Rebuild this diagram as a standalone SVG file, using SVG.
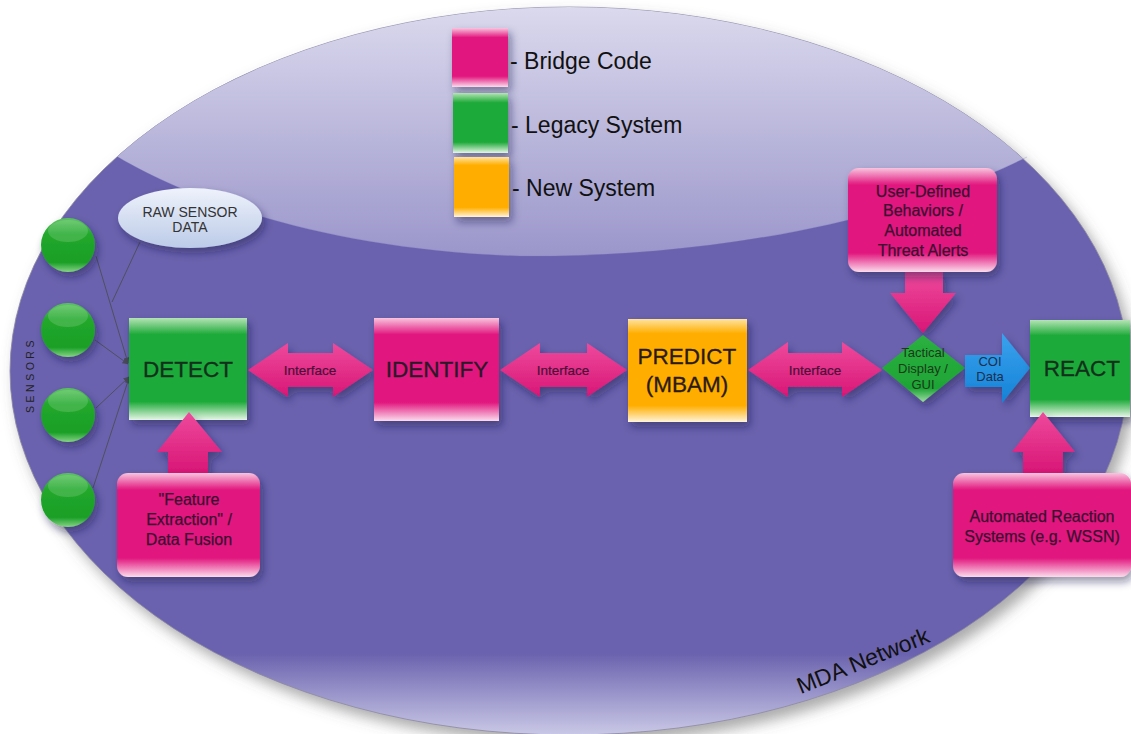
<svg xmlns="http://www.w3.org/2000/svg" width="1131" height="734" viewBox="0 0 1131 734">
<defs>
  <linearGradient id="bgMain" x1="0" y1="0" x2="0" y2="734" gradientUnits="userSpaceOnUse">
    <stop offset="0" stop-color="#6a62ae"/>
    <stop offset="0.89" stop-color="#6a62ae"/>
    <stop offset="1" stop-color="#c9c7e6"/>
  </linearGradient>
  <linearGradient id="bgTop" x1="0" y1="0" x2="0" y2="260" gradientUnits="userSpaceOnUse">
    <stop offset="0" stop-color="#dcdbee"/>
    <stop offset="1" stop-color="#9a95ca"/>
  </linearGradient>
  <linearGradient id="pinkG" x1="0" y1="0" x2="0" y2="1">
    <stop offset="0" stop-color="#f9c4de"/>
    <stop offset="0.16" stop-color="#e2197f"/>
    <stop offset="0.82" stop-color="#e2197f"/>
    <stop offset="1" stop-color="#fcdcec"/>
  </linearGradient>
  <linearGradient id="greenG" x1="0" y1="0" x2="0" y2="1">
    <stop offset="0" stop-color="#b4e4b4"/>
    <stop offset="0.16" stop-color="#1faa3a"/>
    <stop offset="0.82" stop-color="#1faa3a"/>
    <stop offset="1" stop-color="#e6f6e6"/>
  </linearGradient>
  <linearGradient id="orangeG" x1="0" y1="0" x2="0" y2="1">
    <stop offset="0" stop-color="#ffe3a0"/>
    <stop offset="0.14" stop-color="#ffae00"/>
    <stop offset="0.84" stop-color="#ffae00"/>
    <stop offset="1" stop-color="#fff4da"/>
  </linearGradient>
  <linearGradient id="arrowPink" x1="0" y1="0" x2="0" y2="1">
    <stop offset="0" stop-color="#ee4a9c"/>
    <stop offset="1" stop-color="#d81676"/>
  </linearGradient>
  <linearGradient id="blueG" x1="0" y1="0" x2="0" y2="1">
    <stop offset="0" stop-color="#3aa2ee"/>
    <stop offset="1" stop-color="#1582d6"/>
  </linearGradient>
  <linearGradient id="diamondG" x1="0" y1="0" x2="0" y2="1">
    <stop offset="0" stop-color="#2bb040"/>
    <stop offset="0.8" stop-color="#1ea535"/>
    <stop offset="1" stop-color="#9fdca5"/>
  </linearGradient>
  <linearGradient id="sensorG" x1="0" y1="0" x2="0" y2="1">
    <stop offset="0" stop-color="#5cc460"/>
    <stop offset="0.3" stop-color="#22a82c"/>
    <stop offset="0.82" stop-color="#1a9f26"/>
    <stop offset="1" stop-color="#86d486"/>
  </linearGradient>
  <linearGradient id="rawG" x1="0" y1="0" x2="0" y2="1">
    <stop offset="0" stop-color="#eef2fb"/>
    <stop offset="1" stop-color="#bccbe8"/>
  </linearGradient>
  <filter id="shadow" x="-20%" y="-20%" width="150%" height="160%">
    <feDropShadow dx="3" dy="5" stdDeviation="4" flood-color="#1c1444" flood-opacity="0.45"/>
  </filter>
  <filter id="bigShadow" x="-5%" y="-5%" width="110%" height="112%">
    <feDropShadow dx="6" dy="8" stdDeviation="7" flood-color="#555" flood-opacity="0.5"/>
  </filter>
  <marker id="arr" viewBox="0 0 10 10" refX="9" refY="5" markerWidth="6" markerHeight="6" orient="auto">
    <path d="M0,0 L10,5 L0,10 z" fill="#4a4a5a"/>
  </marker>
  <clipPath id="ellClip">
    <ellipse cx="569" cy="371" rx="559" ry="364"/>
  </clipPath>
</defs>
<style>
  text { font-family: "Liberation Sans", Arial, sans-serif; text-anchor: middle; }
  .tbig { font-size: 22.5px; }
  .tmid { font-size: 16px; }
  .tsmall { font-size: 13.5px; }
  .ttiny { font-size: 13px; }
  .tleg { font-size: 23px; text-anchor: start; }
  .conn { stroke: #50505e; stroke-width: 1; fill: none; }
</style>
<rect width="1131" height="734" fill="#ffffff"/>

<g id="network">
  <ellipse cx="569" cy="371" rx="559" ry="364" fill="url(#bgMain)" stroke="#8a88a0" stroke-width="0.8" filter="url(#bigShadow)"/>
  <path clip-path="url(#ellClip)" d="M0,0 L1131,0 L1131,100 L1027,157 C880,230 680,258 520,256 C330,250 190,200 118,157 L0,100 Z" fill="url(#bgTop)"/>
  <path d="M118,157 C190,200 330,250 520,256 C680,258 880,230 1027,157" fill="none" stroke="#7c76b8" stroke-width="0.6" opacity="0.5"/>
  <text x="0" y="0" transform="translate(866,668) rotate(-22)" font-size="23" fill="#111111">MDA Network</text>
</g>

<g id="legend" fill="#111111">
  <rect x="452" y="28" width="56" height="59" fill="url(#pinkG)" filter="url(#shadow)"/>
  <text class="tleg" x="510" y="69">- Bridge Code</text>
  <rect x="453" y="93" width="55" height="60" fill="url(#greenG)" filter="url(#shadow)"/>
  <text class="tleg" x="511" y="133">- Legacy System</text>
  <rect x="454" y="157" width="55" height="60" fill="url(#orangeG)" filter="url(#shadow)"/>
  <text class="tleg" x="512" y="196">- New System</text>
</g>

<g id="connectors">
  <line class="conn" x1="96" y1="256" x2="128" y2="363" marker-end="url(#arr)"/>
  <line class="conn" x1="95" y1="340" x2="128" y2="364" marker-end="url(#arr)"/>
  <line class="conn" x1="96" y1="408" x2="129" y2="377" marker-end="url(#arr)"/>
  <line class="conn" x1="93" y1="488" x2="129" y2="378" marker-end="url(#arr)"/>
  <line class="conn" x1="140" y1="242" x2="112" y2="302"/>
</g>

<g id="sensors">
  <text x="0" y="0" transform="translate(34,375) rotate(-90)" font-size="10.5" fill="#222222" letter-spacing="3.5">SENSORS</text>
  <g id="sensor1"><circle cx="68" cy="245" r="27" fill="url(#sensorG)" filter="url(#shadow)"/><ellipse cx="68" cy="231" rx="20" ry="11" fill="#ffffff" opacity="0.15"/></g>
  <g id="sensor2"><circle cx="68" cy="330" r="27" fill="url(#sensorG)" filter="url(#shadow)"/><ellipse cx="68" cy="316" rx="20" ry="11" fill="#ffffff" opacity="0.15"/></g>
  <g id="sensor3"><circle cx="68" cy="415" r="27" fill="url(#sensorG)" filter="url(#shadow)"/><ellipse cx="68" cy="401" rx="20" ry="11" fill="#ffffff" opacity="0.15"/></g>
  <g id="sensor4"><circle cx="68" cy="500" r="27" fill="url(#sensorG)" filter="url(#shadow)"/><ellipse cx="68" cy="486" rx="20" ry="11" fill="#ffffff" opacity="0.15"/></g>
</g>

<g id="raw-sensor-data">
  <ellipse cx="190" cy="218" rx="72" ry="30" fill="url(#rawG)" filter="url(#shadow)"/>
  <text x="190" y="217" font-size="14" fill="#333333">RAW SENSOR</text>
  <text x="190" y="232" font-size="14" fill="#333333">DATA</text>
</g>

<g id="detect">
  <rect x="129" y="318" width="118" height="102" fill="url(#greenG)" filter="url(#shadow)"/>
  <text class="tbig" x="188" y="377" fill="#12301a" stroke="#12301a" stroke-width="0.3">DETECT</text>
</g>

<g id="feature-extraction">
  <path d="M168,473 L168,452 L157,452 L189,412 L222,452 L208,452 L208,473 Z" fill="url(#arrowPink)" filter="url(#shadow)"/>
  <rect x="117" y="473" width="143" height="104" rx="11" fill="url(#pinkG)" filter="url(#shadow)"/>
  <g fill="#3a1030" stroke="#3a1030" stroke-width="0.25">
    <text class="tmid" x="189" y="505">"Feature</text>
    <text class="tmid" x="189" y="525">Extraction" /</text>
    <text class="tmid" x="189" y="545">Data Fusion</text>
  </g>
</g>

<g id="interface1">
  <path d="M248,370 L288,343 L288,353 L333,353 L333,343 L373,370 L333,397 L333,387 L288,387 L288,397 Z" fill="url(#arrowPink)" filter="url(#shadow)"/>
  <text class="tsmall" x="310" y="375" fill="#4a1038" stroke="#4a1038" stroke-width="0.2">Interface</text>
</g>

<g id="identify">
  <rect x="374" y="318" width="125" height="103" fill="url(#pinkG)" filter="url(#shadow)"/>
  <text class="tbig" x="437" y="377" fill="#2a1a28" stroke="#2a1a28" stroke-width="0.3">IDENTIFY</text>
</g>

<g id="interface2">
  <path d="M500,370 L540,343 L540,353 L587,353 L587,343 L627,370 L587,397 L587,387 L540,387 L540,397 Z" fill="url(#arrowPink)" filter="url(#shadow)"/>
  <text class="tsmall" x="563" y="375" fill="#4a1038" stroke="#4a1038" stroke-width="0.2">Interface</text>
</g>

<g id="predict">
  <rect x="628" y="319" width="119" height="103" fill="url(#orangeG)" filter="url(#shadow)"/>
  <g fill="#2a1a10" stroke="#2a1a10" stroke-width="0.3">
    <text class="tbig" x="687" y="364">PREDICT</text>
    <text class="tbig" x="687" y="392">(MBAM)</text>
  </g>
</g>

<g id="interface3">
  <path d="M748,370 L788,342 L788,353 L842,353 L842,342 L882,370 L842,397 L842,387 L788,387 L788,397 Z" fill="url(#arrowPink)" filter="url(#shadow)"/>
  <text class="tsmall" x="815" y="375" fill="#4a1038" stroke="#4a1038" stroke-width="0.2">Interface</text>
</g>

<g id="user-defined">
  <path d="M905,272 L905,293 L890,293 L923,333 L956,293 L943,293 L943,272 Z" fill="url(#arrowPink)" filter="url(#shadow)"/>
  <rect x="848" y="168" width="149" height="104" rx="11" fill="url(#pinkG)" filter="url(#shadow)"/>
  <g fill="#3a1030" stroke="#3a1030" stroke-width="0.25">
    <text class="tmid" x="923" y="197">User-Defined</text>
    <text class="tmid" x="923" y="216">Behaviors /</text>
    <text class="tmid" x="923" y="236">Automated</text>
    <text class="tmid" x="923" y="256">Threat Alerts</text>
  </g>
</g>

<g id="tactical-display">
  <path d="M923,335 L965,368 L923,402 L882,368 Z" fill="url(#diamondG)" filter="url(#shadow)"/>
  <g fill="#1a3a1a">
    <text class="ttiny" x="923" y="357">Tactical</text>
    <text class="ttiny" x="923" y="373">Display /</text>
    <text class="ttiny" x="923" y="389">GUI</text>
  </g>
</g>

<g id="coi-data">
  <path d="M965,355 L1002,355 L1002,333 L1030,368 L1002,403 L1002,387 L965,387 Z" fill="url(#blueG)" filter="url(#shadow)"/>
  <g fill="#1a3050">
    <text class="ttiny" x="990" y="366">COI</text>
    <text class="ttiny" x="990" y="381">Data</text>
  </g>
</g>

<g id="react">
  <rect x="1030" y="320" width="100" height="97" fill="url(#greenG)" filter="url(#shadow)"/>
  <text class="tbig" x="1082" y="376" fill="#12301a" stroke="#12301a" stroke-width="0.3">REACT</text>
</g>

<g id="automated-reaction">
  <path d="M1023,473 L1023,452 L1012,452 L1043,412 L1075,452 L1063,452 L1063,473 Z" fill="url(#arrowPink)" filter="url(#shadow)"/>
  <rect x="953" y="473" width="178" height="104" rx="11" fill="url(#pinkG)" filter="url(#shadow)"/>
  <g fill="#3a1030" stroke="#3a1030" stroke-width="0.25">
    <text class="tmid" x="1042" y="522">Automated Reaction</text>
    <text class="tmid" x="1042" y="542">Systems (e.g. WSSN)</text>
  </g>
</g>
</svg>
